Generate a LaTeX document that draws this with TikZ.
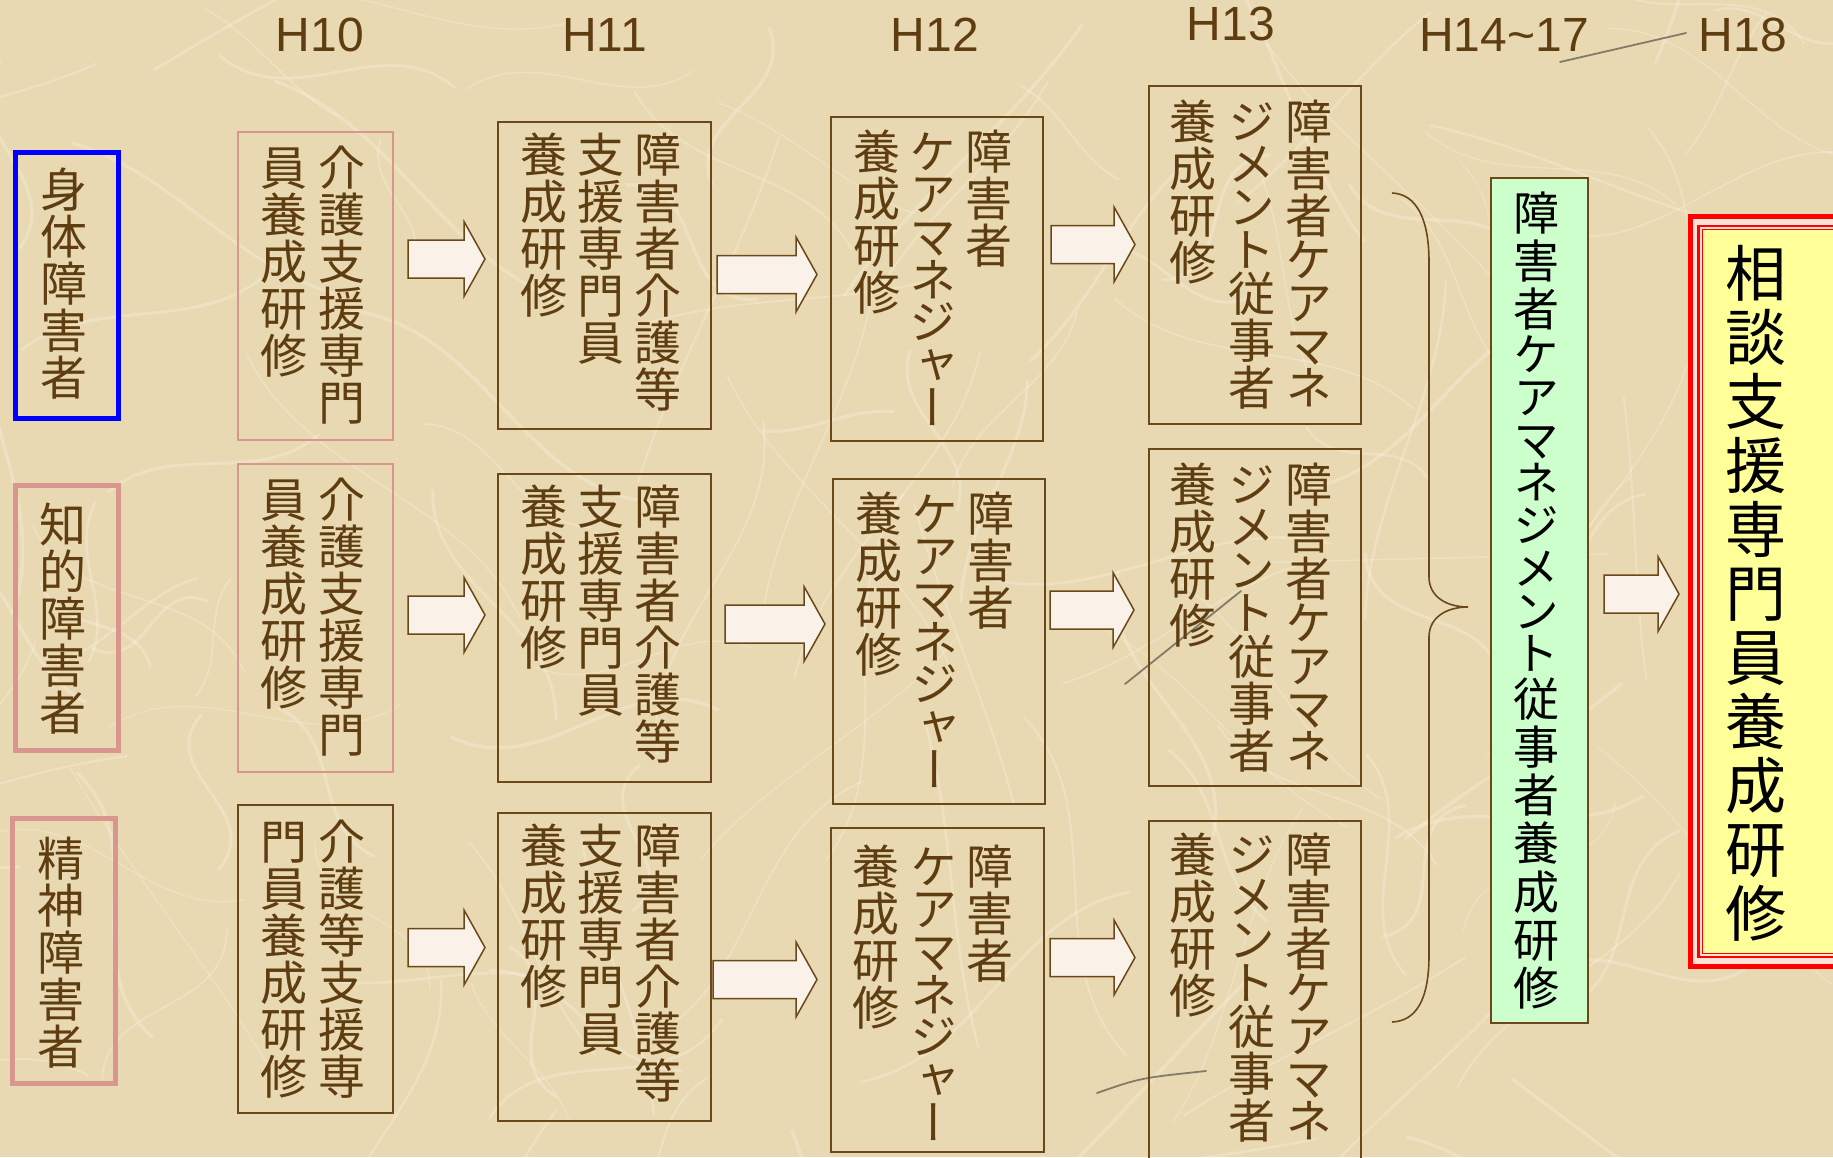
\documentclass[tikz,border=0pt]{standalone}
\usepackage{fontspec}
\newfontfamily\jp[RawFeature={+vert}]{Noto Sans CJK JP}
\newfontfamily\hd{Liberation Sans}
\definecolor{bg}{RGB}{233,217,178}
\definecolor{tb}{RGB}{94,61,17}
\definecolor{bb}{RGB}{106,72,26}
\definecolor{pk}{RGB}{216,150,142}
\definecolor{afill}{RGB}{250,242,232}
\definecolor{gfill}{RGB}{204,255,204}
\definecolor{yfill}{RGB}{255,255,153}
\definecolor{rpale}{RGB}{250,226,214}

\ExplSyntaxOn
\dim_new:N \l_vc_prev_dim
\dim_new:N \l_vc_cur_dim
\bool_new:N \l_vc_first_bool
\int_new:N \l_vc_code_int
\NewDocumentCommand \vcol { O{47} O{42.7} m }
 {
  \vtop
   {
    \offinterlineskip
    \bool_set_true:N \l_vc_first_bool
    \tl_map_inline:nn {#3}
     {
      \int_set:Nn \l_vc_code_int { `##1 }
      \bool_lazy_and:nnTF
        { \int_compare_p:nNn \l_vc_code_int > { "309F } }
        { \int_compare_p:nNn \l_vc_code_int < { "3100 } }
        { \dim_set:Nn \l_vc_cur_dim { #2 pt } }
        { \dim_set:Nn \l_vc_cur_dim { #1 pt } }
      \bool_if:NF \l_vc_first_bool
        { \kern \dim_eval:n { ( \l_vc_prev_dim + \l_vc_cur_dim ) / 2 } \scan_stop: }
      \hbox_to_wd:nn { 1em } { \hss \smash{##1} \hss }
      \dim_set_eq:NN \l_vc_prev_dim \l_vc_cur_dim
      \bool_set_false:N \l_vc_first_bool
     }
   }
 }
\ExplSyntaxOff

\tikzset{
  tb box/.style={draw=bb, line width=2, outer sep=0, inner sep=0},
  pk box/.style={draw=pk, line width=2, outer sep=0, inner sep=0},
  lab blue/.style={draw=blue, line width=5, outer sep=0, inner sep=0},
  lab pink/.style={draw=pk, line width=5, outer sep=0, inner sep=0},
  jt/.style={inner sep=0, outer sep=0, anchor=base, text=tb, font=\jp\fontsize{47}{47}\selectfont},
  hdt/.style={inner sep=0, anchor=base, text=tb, font=\hd\fontsize{48}{48}\selectfont},
  barrow/.style={draw=bb, line width=1.5, fill=afill, line join=miter},
  fiber/.style={white, opacity=0.22, line cap=round},
  grit/.style={draw={rgb,255:red,95;green,92;blue,80}, line width=1.8, opacity=0.75, line cap=round},
}
\newcommand\bx[6]{\node[#1, minimum width=#4-#2, minimum height=#5-#3, anchor=north west] (#6) at (#2,#3) {};}
\newcommand\barrow[4]{%
  \coordinate (#1s) at (#2,#4); \coordinate (#1e) at (#3,#4);
  \draw[barrow] (#2,#4-19) -- (#3-21,#4-19) -- (#3-21,#4-37.5) -- (#1e) -- (#3-21,#4+37.5) -- (#3-21,#4+19) -- (#2,#4+19) -- cycle;}

\begin{document}
\begin{tikzpicture}[x=1pt,y=-1pt]
\useasboundingbox (0,0) rectangle (1833,1157);
\begin{scope}
\clip (0,0) rectangle (1833,1157);
\fill[bg] (0,0) rectangle (1833,1157);
\pgfmathsetseed{12}
\foreach \i in {1,...,130}{
  \pgfmathsetmacro\xa{rnd*1833}
  \pgfmathsetmacro\ya{rnd*1157}
  \pgfmathsetmacro\ang{rnd*360}
  \pgfmathsetmacro\len{120+rnd*260}
  \pgfmathsetmacro\bend{(rnd-0.5)*120}
  \pgfmathsetmacro\xd{\xa+\len*cos(\ang)}
  \pgfmathsetmacro\yd{\ya+\len*sin(\ang)}
  \pgfmathsetmacro\xb{\xa+0.33*\len*cos(\ang)-\bend*sin(\ang)}
  \pgfmathsetmacro\yb{\ya+0.33*\len*sin(\ang)+\bend*cos(\ang)}
  \pgfmathsetmacro\xc{\xa+0.66*\len*cos(\ang)+\bend*sin(\ang)}
  \pgfmathsetmacro\yc{\ya+0.66*\len*sin(\ang)-\bend*cos(\ang)}
  \pgfmathsetmacro\lw{1+rnd*2.5}
  \draw[fiber, line width=\lw] (\xa,\ya) .. controls (\xb,\yb) and (\xc,\yc) .. (\xd,\yd);
}
\draw[grit] (1560,62) -- (1686,33);
\draw[grit] (1125,684) -- (1241,591);
\draw[grit] (1097,1093) .. controls (1140,1078) .. (1206,1071);
\end{scope}

% headers
\node[hdt] (h10) at (320,51) {H10};
\node[hdt] (h11) at (604.5,51) {H11};
\node[hdt] (h12) at (935,51) {H12};
\node[hdt] (h13) at (1231,40) {H13};
\node[hdt] (h1417) at (1504,51) {H14\textasciitilde17};
\node[hdt] (h18) at (1743,51) {H18};

% row labels
\bx{lab blue}{15.5}{152.5}{118.5}{418.5}{L1}
\bx{lab pink}{15.5}{485.5}{118.5}{750.5}{L2}
\bx{lab pink}{12.5}{818.5}{115.5}{1083.5}{L3}
\node[jt] (L1t) at (64,207) {\vcol{身体障害者}};
\node[jt] (L2t) at (62.5,542) {\vcol{知的障害者}};
\node[jt] (L3t) at (60.5,876) {\vcol{精神障害者}};

% H10
\bx{pk box}{238}{132}{393}{440}{A1}
\bx{pk box}{238}{464}{393}{772}{A2}
\bx{tb box}{238}{805}{393}{1113}{A3}
\node[jt] (A1r) at (341.5,185) {\vcol{介護支援専門}};
\node[jt] (A1l) at (283.5,185) {\vcol{員養成研修}};
\node[jt] (A2r) at (341.5,517) {\vcol{介護支援専門}};
\node[jt] (A2l) at (283.5,517) {\vcol{員養成研修}};
\node[jt] (A3r) at (341.5,859) {\vcol{介護等支援専}};
\node[jt] (A3l) at (283.5,859) {\vcol{門員養成研修}};

% H11
\bx{tb box}{498}{122}{711}{429}{B1}
\bx{tb box}{498}{474}{711}{782}{B2}
\bx{tb box}{498}{813}{711}{1121}{B3}
\node[jt] (B1r) at (658,172) {\vcol{障害者介護等}};
\node[jt] (B1m) at (601,172) {\vcol{支援専門員}};
\node[jt] (B1l) at (544,172) {\vcol{養成研修}};
\node[jt] (B2r) at (658,524) {\vcol{障害者介護等}};
\node[jt] (B2m) at (601,524) {\vcol{支援専門員}};
\node[jt] (B2l) at (544,524) {\vcol{養成研修}};
\node[jt] (B3r) at (658,863) {\vcol{障害者介護等}};
\node[jt] (B3m) at (601,863) {\vcol{支援専門員}};
\node[jt] (B3l) at (544,863) {\vcol{養成研修}};

% H12
\bx{tb box}{831}{117}{1043}{441}{C1}
\bx{tb box}{833}{479}{1045}{804}{C2}
\bx{tb box}{831}{828}{1044}{1152}{C3}
\node[jt] (C1r) at (989,169) {\vcol{障害者}};
\node[jt] (C1m) at (933,169) {\vcol{ケアマネジャー}};
\node[jt] (C1l) at (877,169) {\vcol{養成研修}};
\node[jt] (C2r) at (991,531) {\vcol{障害者}};
\node[jt] (C2m) at (935,531) {\vcol{ケアマネジャー}};
\node[jt] (C2l) at (879,531) {\vcol{養成研修}};
\node[jt] (C3r) at (990,884) {\vcol{障害者}};
\node[jt] (C3m) at (934,884) {\vcol{ケアマネジャー}};
\node[jt] (C3l) at (876,884) {\vcol{養成研修}};

% H13
\bx{tb box}{1149}{86}{1361}{424}{D1}
\bx{tb box}{1149}{449}{1361}{786}{D2}
\bx{tb box}{1149}{821}{1361}{1185}{D3}
\node[jt] (D1r) at (1309,139) {\vcol{障害者ケアマネ}};
\node[jt] (D1m) at (1252,139) {\vcol{ジメント従事者}};
\node[jt] (D1l) at (1193,139) {\vcol{養成研修}};
\node[jt] (D2r) at (1309,502) {\vcol{障害者ケアマネ}};
\node[jt] (D2m) at (1252,502) {\vcol{ジメント従事者}};
\node[jt] (D2l) at (1193,502) {\vcol{養成研修}};
\node[jt] (D3r) at (1309,872) {\vcol{障害者ケアマネ}};
\node[jt] (D3m) at (1252,872) {\vcol{ジメント従事者}};
\node[jt] (D3l) at (1193,872) {\vcol{養成研修}};

% arrows
\barrow{r1a}{408}{485}{259}
\barrow{r1b}{717}{817}{274.5}
\barrow{r1c}{1051}{1135}{244.5}
\barrow{r2a}{408}{485}{615}
\barrow{r2b}{725}{825}{624}
\barrow{r2c}{1050}{1134}{610}
\barrow{r3a}{408}{485}{947.5}
\barrow{r3b}{713}{817}{979.5}
\barrow{r3c}{1050}{1135}{957.5}
\barrow{r4}{1604}{1679}{594}

% brace
\coordinate (brt) at (1392,193);
\coordinate (brtip) at (1468,607);
\coordinate (brb) at (1392,1022);
\draw[bb, line width=1.6] (brt) .. controls (1416,194) and (1429,218) .. (1429,262)
  -- (1429,577) .. controls (1429,597) and (1447,607) .. (brtip)
  .. controls (1447,607) and (1429,617) .. (1429,637)
  -- (1429,955) .. controls (1429,1000) and (1416,1021) .. (brb);

% green box
\node[draw=bb, line width=2, fill=gfill, outer sep=0, inner sep=0, minimum width=97, minimum height=845, anchor=north west] (G) at (1491,178) {};
\node[jt, text=black, font=\jp\fontsize{46}{46}\selectfont] (Gt) at (1536,230) {\vcol[48.2][42.7]{障害者ケアマネジメント従事者養成研修}};

% red box
\node[draw=red, line width=5, fill=rpale, outer sep=0, inner sep=0, minimum width=170, minimum height=750, anchor=north west] (R) at (1690.5,216.5) {};
\draw[red, line width=2.6] (1698.5,226) rectangle (1860,957);
\draw[red, line width=1.3, fill=yfill] (1702.5,229.5) rectangle (1860,953.5);
\node[jt, text=black, font=\jp\fontsize{61}{61}\selectfont] (Rt) at (1756,296) {\vcol[64][56]{相談支援専門員養成研修}};
\end{tikzpicture}
\end{document}
